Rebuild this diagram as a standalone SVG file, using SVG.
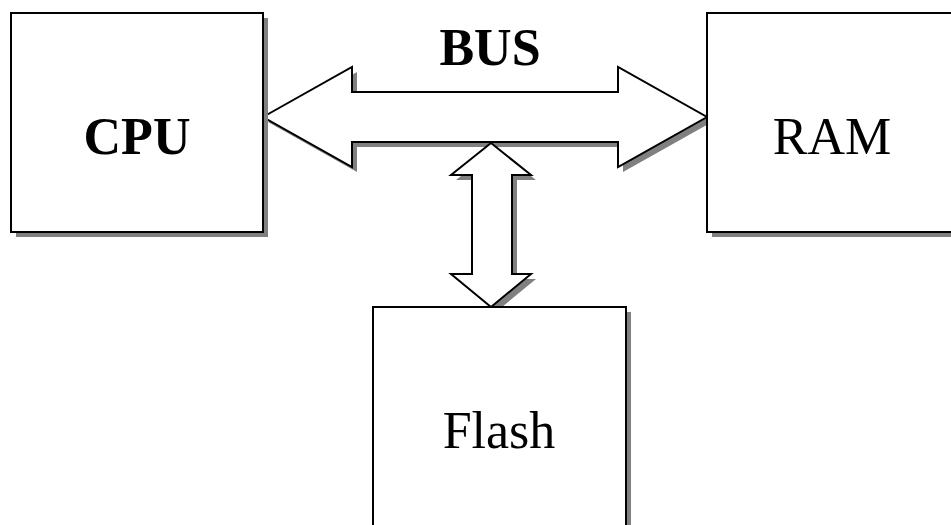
<svg xmlns="http://www.w3.org/2000/svg" width="951" height="525" viewBox="0 0 951 525">
<style>
.sh{fill:#808080;stroke:none}
.bx{fill:#fff;stroke:#000;stroke-width:2}
.t{font-family:"Liberation Serif","Times New Roman",serif;font-size:52px;fill:#000;text-anchor:middle}
.b{font-weight:bold}
</style>
<rect width="951" height="525" fill="#fff"/>
<g id="connectors">
<polygon class="sh" transform="translate(5,5)" points="263,117 352,67 352,92 618,92 618,67 707,117 618,167 618,142 352,142 352,167"/>
<polygon class="bx" points="263,117 352,67 352,92 618,92 618,67 707,117 618,167 618,142 352,142 352,167"/>
<polygon class="sh" transform="translate(5,5)" points="491,143 531,175 512,175 512,274 531,274 491,307 451,274 472,274 472,175 451,175"/>
<polygon class="bx" points="491,143 531,175 512,175 512,274 531,274 491,307 451,274 472,274 472,175 451,175"/>
<text class="t b" x="490" y="65">BUS</text>
</g>
<g id="cpu">
<rect class="sh" x="16" y="18" width="252" height="219"/>
<rect class="bx" x="11" y="13" width="252" height="219"/>
<text class="t b" x="137" y="154">CPU</text>
</g>
<g id="ram">
<rect class="sh" x="712" y="18" width="252" height="219"/>
<rect class="bx" x="707" y="13" width="252" height="219"/>
<text class="t" x="832" y="154">RAM</text>
</g>
<g id="flash">
<rect class="sh" x="378" y="312" width="253" height="230"/>
<rect class="bx" x="373" y="307" width="253" height="230"/>
<text class="t" x="499" y="448">Flash</text>
</g>
</svg>
